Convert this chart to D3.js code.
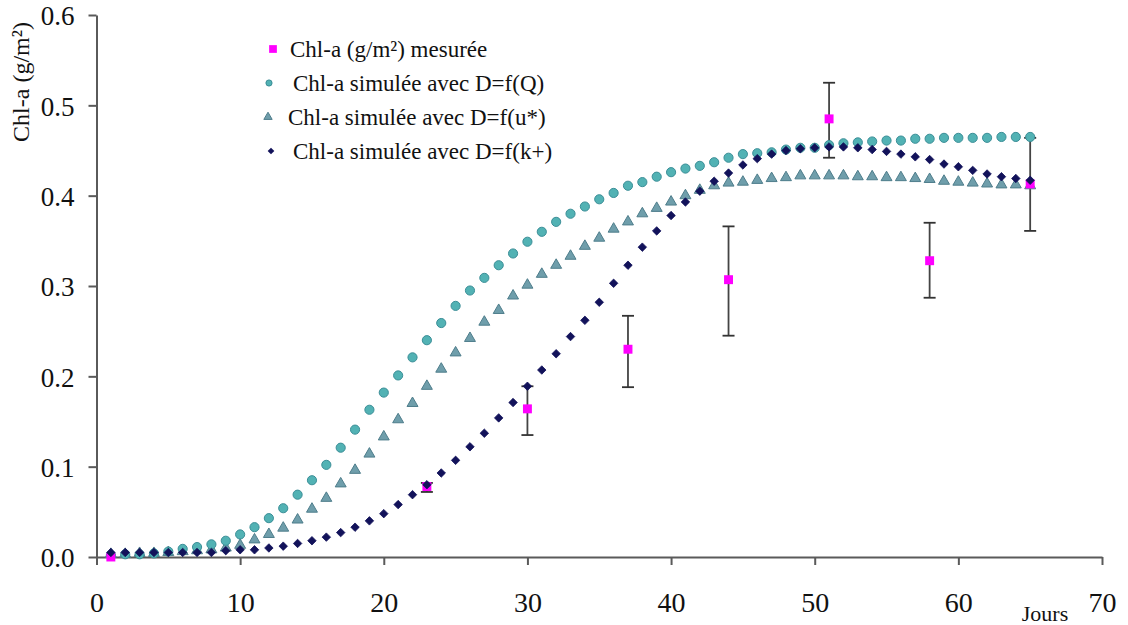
<!DOCTYPE html>
<html>
<head>
<meta charset="utf-8">
<script src="https://cdn.jsdelivr.net/npm/d3@7"></script>
<style>
  body { margin: 0; background: #fff; }
  svg text { font-family: "Liberation Serif", "DejaVu Serif", serif; fill: #111; }
</style>
</head>
<body>
<div id="chart"></div>
<script>
// days of the simulation
var days = [1, 2, 3, 4, 5, 6, 7, 8, 9, 10, 11, 12, 13, 14, 15, 16, 17, 18, 19, 20,
  21, 22, 23, 24, 25, 26, 27, 28, 29, 30, 31, 32, 33, 34, 35, 36, 37, 38, 39, 40,
  41, 42, 43, 44, 45, 46, 47, 48, 49, 50, 51, 52, 53, 54, 55, 56, 57, 58, 59, 60,
  61, 62, 63, 64, 65];

// Chl-a simulée avec D=f(Q)
var simQ = [0.002, 0.003, 0.003, 0.004, 0.006, 0.009, 0.011, 0.014, 0.018, 0.025,
  0.033, 0.043, 0.054, 0.069, 0.085, 0.102, 0.121, 0.141, 0.163, 0.182,
  0.201, 0.221, 0.240, 0.259, 0.278, 0.295, 0.309, 0.323, 0.336, 0.349,
  0.360, 0.371, 0.380, 0.388, 0.396, 0.403, 0.411, 0.415, 0.421, 0.426,
  0.430, 0.433, 0.437, 0.442, 0.446, 0.447, 0.448, 0.451, 0.453, 0.453,
  0.456, 0.458, 0.459, 0.460, 0.461, 0.461, 0.463, 0.463, 0.464, 0.464,
  0.464, 0.464, 0.465, 0.465, 0.465];

// Chl-a simulée avec D=f(u*)
var simU = [0.002, 0.002, 0.003, 0.003, 0.004, 0.005, 0.006, 0.007, 0.009, 0.012,
  0.018, 0.024, 0.031, 0.040, 0.052, 0.064, 0.080, 0.095, 0.113, 0.132,
  0.151, 0.169, 0.188, 0.207, 0.225, 0.241, 0.259, 0.272, 0.288, 0.300,
  0.312, 0.322, 0.332, 0.343, 0.352, 0.362, 0.370, 0.379, 0.385, 0.392,
  0.399, 0.405, 0.410, 0.413, 0.414, 0.416, 0.418, 0.419, 0.421, 0.421,
  0.421, 0.421, 0.420, 0.420, 0.419, 0.419, 0.418, 0.417, 0.415, 0.414,
  0.413, 0.412, 0.411, 0.411, 0.410];

// Chl-a simulée avec D=f(k+)
var simK = [0.005, 0.005, 0.005, 0.005, 0.005, 0.005, 0.005, 0.005, 0.007, 0.008,
  0.008, 0.010, 0.012, 0.015, 0.018, 0.022, 0.027, 0.033, 0.040, 0.048,
  0.058, 0.069, 0.080, 0.093, 0.107, 0.122, 0.137, 0.154, 0.171, 0.189,
  0.207, 0.225, 0.244, 0.262, 0.282, 0.303, 0.323, 0.343, 0.361, 0.378,
  0.393, 0.405, 0.416, 0.425, 0.434, 0.441, 0.446, 0.450, 0.452, 0.453,
  0.454, 0.454, 0.453, 0.451, 0.449, 0.446, 0.443, 0.440, 0.435, 0.432,
  0.428, 0.424, 0.421, 0.419, 0.417];

// measured Chl-a with error bars
var measDays = [1, 23, 30, 37, 44, 51, 58, 65];
var measVals = [0.000, 0.078, 0.164, 0.230, 0.307, 0.485, 0.328, 0.413];
var measLow  = [0.000, 0.072, 0.135, 0.188, 0.245, 0.442, 0.287, 0.361];
var measHigh = [0.000, 0.082, 0.189, 0.267, 0.366, 0.525, 0.370, 0.464];

var xTicks = [0, 10, 20, 30, 40, 50, 60, 70];
var yTicks = [0, 0.1, 0.2, 0.3, 0.4, 0.5, 0.6];

var legendLabels = [
  "Chl-a (g/m\u00B2) mesur\u00E9e",
  "Chl-a simul\u00E9e avec D=f(Q)",
  "Chl-a simul\u00E9e avec D=f(u*)",
  "Chl-a simul\u00E9e avec D=f(k+)"
];

// svg container
var width = 1128;
var height = 625;
var serif = "'Liberation Serif', 'DejaVu Serif', serif";

var svg = d3.select("#chart")
  .append("svg")
  .attr("width", width)
  .attr("height", height);

var x = d3.scaleLinear().domain([0, 70]).range([96.5, 1102]);
var y = d3.scaleLinear().domain([0, 0.6]).range([557, 15]);

var axisColor = "#5a5a5a";

// y axis
var yAxis = svg.append("g")
  .attr("transform", "translate(96.5,0)")
  .call(d3.axisLeft(y).tickValues(yTicks).tickSize(8).tickSizeOuter(0).tickFormat(d3.format(".1f")));
yAxis.attr("font-family", serif);
yAxis.select(".domain").attr("stroke", axisColor).attr("stroke-width", 2);
yAxis.selectAll(".tick line").attr("stroke", axisColor).attr("stroke-width", 2);
yAxis.selectAll(".tick text")
  .attr("x", -22)
  .attr("dy", "0.36em")
  .style("font-size", "27px")
  .style("font-family", serif)
  .attr("fill", "#111");

// x axis
var xAxis = svg.append("g")
  .attr("transform", "translate(0,557)")
  .call(d3.axisBottom(x).tickValues(xTicks).tickSize(8).tickSizeOuter(0));
xAxis.attr("font-family", serif);
xAxis.select(".domain").attr("stroke", axisColor).attr("stroke-width", 2);
xAxis.selectAll(".tick line").attr("stroke", axisColor).attr("stroke-width", 2);
xAxis.selectAll(".tick text")
  .attr("y", 55)
  .attr("dy", null)
  .style("font-size", "28px")
  .style("font-family", serif)
  .attr("fill", "#111");

// axis titles
svg.append("text")
  .attr("transform", "translate(29,82)rotate(-90)")
  .attr("text-anchor", "middle")
  .style("font-size", "24px")
  .text("Chl-a (g/m\u00B2)");

svg.append("text")
  .attr("x", 1045)
  .attr("y", 621)
  .attr("text-anchor", "middle")
  .style("font-size", "22px")
  .text("Jours");

// rounded-ish diamond: a square turned by 45 degrees
var diamond = {
  draw: function(context, size) {
    var r = Math.sqrt(size / 2);
    context.moveTo(0, -r);
    context.lineTo(r, 0);
    context.lineTo(0, r);
    context.lineTo(-r, 0);
    context.closePath();
  }
};

// symbols
var circleSym = d3.symbol().type(d3.symbolCircle).size(66);
var triSym = d3.symbol().type(d3.symbolTriangle).size(52);
var diaSym = d3.symbol().type(diamond).size(36);
var sqSym = d3.symbol().type(d3.symbolSquare).size(80);

var plot = svg.append("g");

// error bars
var errGroup = plot.append("g");
measDays.forEach(function(d, i) {
  if (measHigh[i] === measLow[i]) return;
  var cx = x(d);
  errGroup.append("line")
    .attr("x1", cx).attr("x2", cx)
    .attr("y1", y(measLow[i])).attr("y2", y(measHigh[i]))
    .attr("stroke", "#444").attr("stroke-width", 1.8);
  [measLow[i], measHigh[i]].forEach(function(v) {
    errGroup.append("line")
      .attr("x1", cx - 6).attr("x2", cx + 6)
      .attr("y1", y(v)).attr("y2", y(v))
      .attr("stroke", "#333").attr("stroke-width", 1.8);
  });
});

// triangles
plot.append("g").selectAll("path")
  .data(simU)
  .enter().append("path")
  .attr("d", triSym)
  .attr("transform", function(d, i) { return "translate(" + x(days[i]) + "," + (y(d) - 1) + ")"; })
  .attr("fill", "#6f9eab")
  .attr("stroke", "#4e7d8b")
  .attr("stroke-width", 1);

// circles
plot.append("g").selectAll("path")
  .data(simQ)
  .enter().append("path")
  .attr("d", circleSym)
  .attr("transform", function(d, i) { return "translate(" + x(days[i]) + "," + y(d) + ")"; })
  .attr("fill", "#52b2b4")
  .attr("stroke", "#3b8e97")
  .attr("stroke-width", 1);

// measured squares
plot.append("g").selectAll("path")
  .data(measVals)
  .enter().append("path")
  .attr("d", sqSym)
  .attr("transform", function(d, i) { return "translate(" + x(measDays[i]) + "," + y(d) + ")"; })
  .attr("fill", "#f0f");

// diamonds
plot.append("g").selectAll("path")
  .data(simK)
  .enter().append("path")
  .attr("d", diaSym)
  .attr("transform", function(d, i) { return "translate(" + x(days[i]) + "," + y(d) + ")"; })
  .attr("fill", "#12125a")
  .attr("stroke", "#12125a")
  .attr("stroke-width", 0.8)
  .attr("stroke-linejoin", "round");

// legend
var legendY = [49, 83, 117, 151];
var legendSyms = [
  { sym: d3.symbol().type(d3.symbolSquare).size(60), fill: "#f0f", stroke: "none", x: 273, tx: 290 },
  { sym: d3.symbol().type(d3.symbolCircle).size(30), fill: "#52b2b4", stroke: "#3b8e97", x: 269, tx: 293 },
  { sym: d3.symbol().type(d3.symbolTriangle).size(30), fill: "#6f9eab", stroke: "#4e7d8b", x: 268, tx: 288 },
  { sym: d3.symbol().type(diamond).size(22), fill: "#12125a", stroke: "none", x: 271, tx: 293 }
];

var legend = svg.append("g");
legendLabels.forEach(function(label, i) {
  var s = legendSyms[i];
  legend.append("path")
    .attr("d", s.sym)
    .attr("transform", "translate(" + s.x + "," + legendY[i] + ")")
    .attr("fill", s.fill)
    .attr("stroke", s.stroke);
  legend.append("text")
    .attr("x", s.tx)
    .attr("y", legendY[i])
    .attr("dy", "0.35em")
    .style("font-size", "23px")
    .style("font-family", serif)
    .text(label);
});
</script>
</body>
</html>
